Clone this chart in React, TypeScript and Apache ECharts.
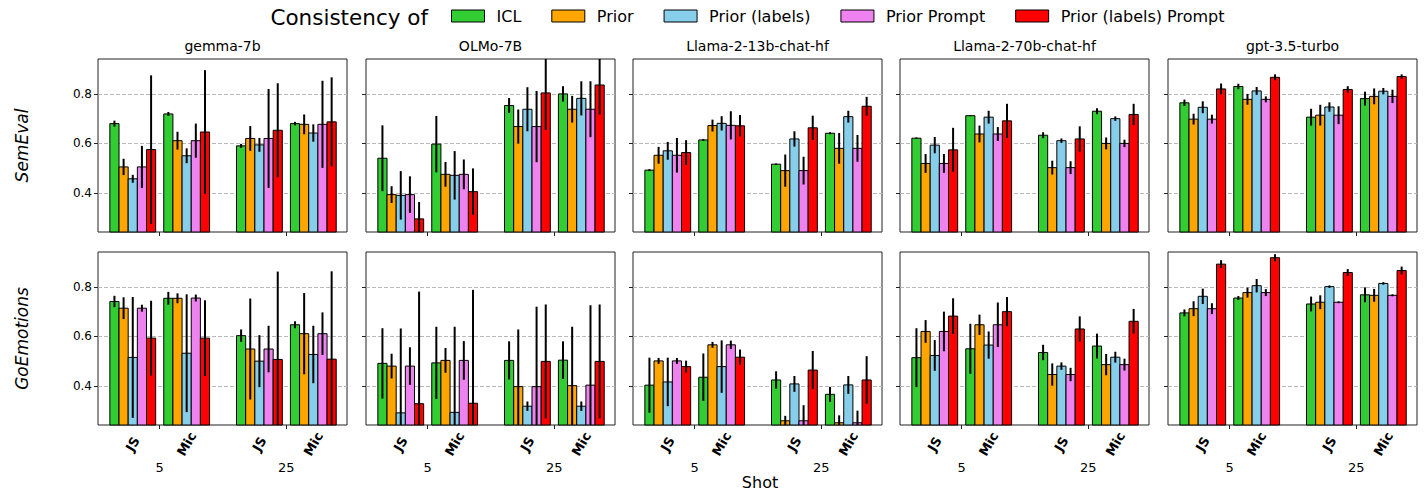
import React, { useEffect, useRef } from 'react';
import * as echarts from 'echarts';

const FONT = 'DejaVu Sans';

const seriesNames = ['ICL', 'Prior', 'Prior (labels)', 'Prior Prompt', 'Prior (labels) Prompt'];
const seriesColors = ['#32cd32', '#ffa500', '#87ceeb', '#ee82ee', '#ff0000'];
const models = ['gemma-7b', 'OLMo-7B', 'Llama-2-13b-chat-hf', 'Llama-2-70b-chat-hf', 'gpt-3.5-turbo'];
const datasets = ['SemEval', 'GoEmotions'];
const groupLabels = ['JS', 'Mic', 'JS', 'Mic'];
const groupPositions = [0, 1, 2.35, 3.35];
const shotLabels = ['5', '25'];
const shotPositions = [0.5, 2.85];
const yTicks = [0.4, 0.6, 0.8];
const Y_MIN = 0.242;
const Y_MAX = 0.941;
const X_MIN = -0.645;
const X_MAX = 3.975;
const BAR_W = 0.17;

// rows: ICL, Prior, Prior (labels), Prior Prompt, Prior (labels) Prompt
// cols: 5-JS, 5-Mic, 25-JS, 25-Mic
const semevalGemmaMean = [
  [0.68, 0.719, 0.59, 0.68],
  [0.505, 0.611, 0.62, 0.677],
  [0.457, 0.55, 0.594, 0.642],
  [0.505, 0.611, 0.62, 0.677],
  [0.575, 0.646, 0.653, 0.687],
];
const semevalGemmaErr = [
  [0.012, 0.008, 0.008, 0.007],
  [0.033, 0.036, 0.05, 0.04],
  [0.016, 0.03, 0.028, 0.035],
  [0.085, 0.069, 0.2, 0.176],
  [0.3, 0.25, 0.19, 0.18],
];
const semevalOlmoMean = [
  [0.54, 0.597, 0.753, 0.8],
  [0.393, 0.475, 0.668, 0.738],
  [0.39, 0.471, 0.738, 0.782],
  [0.393, 0.475, 0.668, 0.738],
  [0.295, 0.405, 0.804, 0.836],
];
const semevalOlmoErr = [
  [0.133, 0.114, 0.03, 0.031],
  [0.034, 0.05, 0.069, 0.054],
  [0.098, 0.098, 0.089, 0.069],
  [0.074, 0.06, 0.144, 0.113],
  [0.068, 0.094, 0.15, 0.12],
];
const semevalLlama13Mean = [
  [0.492, 0.614, 0.516, 0.641],
  [0.552, 0.672, 0.49, 0.58],
  [0.57, 0.681, 0.618, 0.708],
  [0.552, 0.673, 0.49, 0.58],
  [0.563, 0.671, 0.663, 0.75],
];
const semevalLlama13Err = [
  [0.004, 0.004, 0.003, 0.004],
  [0.034, 0.024, 0.065, 0.062],
  [0.036, 0.029, 0.031, 0.024],
  [0.07, 0.057, 0.056, 0.054],
  [0.05, 0.044, 0.049, 0.038],
];
const semevalLlama70Mean = [
  [0.621, 0.712, 0.633, 0.73],
  [0.519, 0.638, 0.502, 0.6],
  [0.593, 0.706, 0.611, 0.7],
  [0.519, 0.638, 0.502, 0.6],
  [0.574, 0.691, 0.618, 0.717],
];
const semevalLlama70Err = [
  [0.003, 0.002, 0.012, 0.012],
  [0.038, 0.034, 0.028, 0.024],
  [0.033, 0.026, 0.009, 0.009],
  [0.038, 0.028, 0.026, 0.015],
  [0.089, 0.069, 0.051, 0.043],
];
const semevalGptMean = [
  [0.764, 0.83, 0.706, 0.781],
  [0.698, 0.778, 0.714, 0.79],
  [0.746, 0.812, 0.747, 0.811],
  [0.698, 0.778, 0.714, 0.79],
  [0.82, 0.867, 0.818, 0.87],
];
const semevalGptErr = [
  [0.013, 0.011, 0.034, 0.028],
  [0.022, 0.022, 0.042, 0.032],
  [0.024, 0.016, 0.019, 0.013],
  [0.018, 0.012, 0.036, 0.027],
  [0.022, 0.012, 0.013, 0.009],
];
const goGemmaMean = [
  [0.741, 0.754, 0.603, 0.647],
  [0.714, 0.754, 0.549, 0.611],
  [0.515, 0.532, 0.5, 0.527],
  [0.714, 0.755, 0.549, 0.611],
  [0.593, 0.593, 0.507, 0.508],
];
const goGemmaErr = [
  [0.023, 0.026, 0.025, 0.014],
  [0.044, 0.02, 0.204, 0.164],
  [0.244, 0.238, 0.105, 0.116],
  [0.014, 0.014, 0.094, 0.086],
  [0.151, 0.153, 0.355, 0.355],
];
const goOlmoMean = [
  [0.491, 0.493, 0.503, 0.504],
  [0.48, 0.503, 0.397, 0.401],
  [0.291, 0.293, 0.318, 0.318],
  [0.48, 0.503, 0.397, 0.403],
  [0.328, 0.33, 0.499, 0.499],
];
const goOlmoErr = [
  [0.142, 0.146, 0.077, 0.076],
  [0.05, 0.05, 0.231, 0.238],
  [0.341, 0.346, 0.019, 0.019],
  [0.076, 0.078, 0.323, 0.323],
  [0.453, 0.458, 0.23, 0.23],
];
const goLlama13Mean = [
  [0.403, 0.435, 0.424, 0.366],
  [0.501, 0.566, 0.259, 0.251],
  [0.416, 0.478, 0.408, 0.404],
  [0.501, 0.566, 0.259, 0.251],
  [0.478, 0.516, 0.464, 0.424],
];
const goLlama13Err = [
  [0.111, 0.096, 0.035, 0.03],
  [0.012, 0.012, 0.02, 0.03],
  [0.098, 0.106, 0.032, 0.036],
  [0.012, 0.017, 0.063, 0.049],
  [0.024, 0.031, 0.077, 0.096],
];
const goLlama70Mean = [
  [0.514, 0.55, 0.535, 0.561],
  [0.62, 0.647, 0.446, 0.486],
  [0.523, 0.565, 0.48, 0.516],
  [0.62, 0.647, 0.446, 0.486],
  [0.682, 0.7, 0.63, 0.661],
];
const goLlama70Err = [
  [0.119, 0.101, 0.031, 0.05],
  [0.046, 0.041, 0.045, 0.043],
  [0.062, 0.055, 0.015, 0.022],
  [0.08, 0.09, 0.027, 0.024],
  [0.072, 0.059, 0.051, 0.05],
];
const goGptMean = [
  [0.695, 0.755, 0.731, 0.768],
  [0.712, 0.777, 0.738, 0.766],
  [0.762, 0.805, 0.801, 0.814],
  [0.712, 0.777, 0.738, 0.766],
  [0.892, 0.918, 0.858, 0.866],
];
const goGptErr = [
  [0.014, 0.008, 0.03, 0.03],
  [0.03, 0.02, 0.028, 0.026],
  [0.031, 0.027, 0.005, 0.005],
  [0.022, 0.014, 0.004, 0.004],
  [0.016, 0.014, 0.014, 0.016],
];

const panelMeans = [
  [semevalGemmaMean, semevalOlmoMean, semevalLlama13Mean, semevalLlama70Mean, semevalGptMean],
  [goGemmaMean, goOlmoMean, goLlama13Mean, goLlama70Mean, goGptMean],
];
const panelErrs = [
  [semevalGemmaErr, semevalOlmoErr, semevalLlama13Err, semevalLlama70Err, semevalGptErr],
  [goGemmaErr, goOlmoErr, goLlama13Err, goLlama70Err, goGptErr],
];

const GRID_LEFTS = [98, 366, 633, 900, 1168];
const GRID_TOPS = [59, 252];
const GRID_W = 249;
const GRID_H = 173;

function labelFor(values: number[], labels: string[]) {
  return (v: number) => {
    const i = values.findIndex((p) => Math.abs(p - v) < 1e-6);
    return i >= 0 ? labels[i] : '';
  };
}

function buildOption() {
  const grid: any[] = [];
  const xAxis: any[] = [];
  const yAxis: any[] = [];
  const series: any[] = [];
  const graphic: any[] = [];

  for (let r = 0; r < 2; r++) {
    for (let c = 0; c < 5; c++) {
      const p = r * 5 + c;
      const bottom = r === 1;
      grid.push({
        left: GRID_LEFTS[c],
        top: GRID_TOPS[r],
        width: GRID_W,
        height: GRID_H,
        show: true,
        borderColor: '#222',
        borderWidth: 1,
        backgroundColor: 'transparent',
      });
      xAxis.push({
        type: 'value',
        gridIndex: p,
        min: X_MIN,
        max: X_MAX,
        position: 'bottom',
        axisLine: { show: false, onZero: false },
        splitLine: { show: false },
        axisTick: { show: true, customValues: shotPositions, length: 4, lineStyle: { color: '#222', width: 1 } },
        axisLabel: {
          show: bottom,
          customValues: shotPositions,
          formatter: labelFor(shotPositions, shotLabels),
          margin: 36,
          fontSize: 13,
          fontFamily: FONT,
          color: '#000',
        },
      });
      xAxis.push({
        type: 'value',
        gridIndex: p,
        min: X_MIN,
        max: X_MAX,
        position: 'bottom',
        axisLine: { show: false, onZero: false },
        splitLine: { show: false },
        axisTick: { show: false },
        axisLabel: {
          show: bottom,
          customValues: groupPositions,
          formatter: labelFor(groupPositions, groupLabels),
          rotate: 60,
          align: 'center',
          verticalAlign: 'middle',
          margin: 19,
          fontSize: 13,
          fontWeight: 'bold',
          fontFamily: FONT,
          color: '#000',
        },
      });
      yAxis.push({
        type: 'value',
        gridIndex: p,
        min: Y_MIN,
        max: Y_MAX,
        position: 'left',
        axisLine: { show: false, onZero: false },
        axisTick: { show: true, customValues: yTicks, length: 4, lineStyle: { color: '#222', width: 1 } },
        axisLabel: {
          show: c === 0,
          customValues: yTicks,
          formatter: (v: number) => v.toFixed(1),
          fontSize: 12,
          fontFamily: FONT,
          color: '#000',
          margin: 6,
        },
        splitLine: { show: true, lineStyle: { type: [4, 2], color: '#b8b8b8', width: 1 } },
      });

      const means = panelMeans[r][c];
      const errs = panelErrs[r][c];
      for (let s = 0; s < 5; s++) {
        const offset = (s - 2) * BAR_W;
        series.push({
          type: 'custom',
          name: seriesNames[s],
          xAxisIndex: 2 * p,
          yAxisIndex: p,
          itemStyle: { color: seriesColors[s], borderColor: '#000', borderWidth: 1 },
          z: 2,
          data: groupPositions.map((g, k) => [g + offset, means[s][k], errs[s][k]]),
          renderItem: (params: any, api: any) => {
            const x = api.value(0);
            const y = api.value(1);
            const e = api.value(2);
            const cs = params.coordSys;
            const p1 = api.coord([x - BAR_W / 2, y]);
            const p2 = api.coord([x + BAR_W / 2, Y_MIN]);
            const top = Math.max(p1[1], cs.y);
            const bot = Math.min(p2[1], cs.y + cs.height);
            const eTop = Math.max(api.coord([x, y + e])[1], cs.y);
            const eBot = Math.min(api.coord([x, y - e])[1], cs.y + cs.height);
            const cx = api.coord([x, y])[0];
            return {
              type: 'group',
              children: [
                {
                  type: 'rect',
                  shape: { x: p1[0], y: top, width: p2[0] - p1[0], height: bot - top },
                  style: { fill: seriesColors[s], stroke: '#000', lineWidth: 1 },
                },
                {
                  type: 'line',
                  shape: { x1: cx, y1: eTop, x2: cx, y2: eBot },
                  style: { stroke: '#000', lineWidth: 2 },
                },
              ],
            };
          },
        });
      }
    }
  }

  models.forEach((m, c) => {
    graphic.push({
      type: 'text',
      x: GRID_LEFTS[c] + GRID_W / 2,
      y: 46,
      style: { text: m, fontSize: 14, fontFamily: FONT, fill: '#000', align: 'center', verticalAlign: 'middle' },
    });
  });
  datasets.forEach((d, r) => {
    graphic.push({
      type: 'text',
      x: 22,
      y: GRID_TOPS[r] + GRID_H / 2,
      rotation: Math.PI / 2,
      style: {
        text: d,
        fontSize: 17,
        fontStyle: 'italic',
        fontFamily: FONT,
        fill: '#000',
        align: 'center',
        verticalAlign: 'middle',
      },
    });
  });
  graphic.push({
    type: 'text',
    x: 760,
    y: 482,
    style: { text: 'Shot', fontSize: 16, fontFamily: FONT, fill: '#000', align: 'center', verticalAlign: 'middle' },
  });
  graphic.push({
    type: 'text',
    x: 428,
    y: 17,
    style: { text: 'Consistency of', fontSize: 21.5, fontFamily: FONT, fill: '#000', align: 'right', verticalAlign: 'middle' },
  });

  return {
    animation: false,
    backgroundColor: '#fff',
    grid,
    xAxis,
    yAxis,
    series,
    graphic,
    legend: {
      data: seriesNames.map((n) => ({ name: n, itemStyle: { borderColor: '#000', borderWidth: 1 } })),
      left: 446,
      top: 3,
      icon: 'rect',
      itemWidth: 33,
      itemHeight: 12,
      itemGap: 30,
      selectedMode: false,
      textStyle: { fontSize: 16, fontFamily: FONT, color: '#000', padding: [0, 0, 0, 7] },
    },
  };
}

export default function App() {
  const ref = useRef<HTMLDivElement>(null);
  useEffect(() => {
    if (!ref.current) return;
    const chart = echarts.init(ref.current, undefined, { renderer: 'svg' });
    chart.setOption(buildOption() as any);
    return () => chart.dispose();
  }, []);
  return (
    <div
      ref={ref}
      style={{ position: 'fixed', left: 0, top: 0, width: 1427, height: 491, background: '#fff' }}
    />
  );
}
